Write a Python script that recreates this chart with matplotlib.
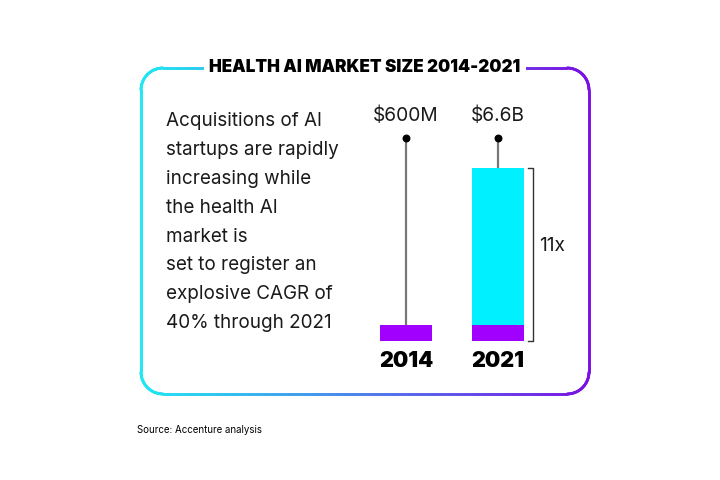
import numpy as np
import matplotlib
matplotlib.use('Agg')
import matplotlib.pyplot as plt
from matplotlib.collections import LineCollection
from matplotlib.colors import LinearSegmentedColormap

# =============================================================================
# DATA
# =============================================================================

years       = ["2014", "2021"]
base_value  = [0.6, 0.6]        # $B, purple segment (2014 level)
total_value = [0.6, 6.6]        # $B, market size
value_label = ["$600M", "$6.6B"]
growth_label = "11x"

title  = "HEALTH AI MARKET SIZE 2014-2021"
body   = ["Acquisitions of AI", "startups are rapidly", "increasing while",
          "the health AI", "market is", "set to register an",
          "explosive CAGR of", "40% through 2021"]
source = "Source: Accenture analysis"

# =============================================================================
# STYLE
# =============================================================================

PURPLE  = '#a100ff'
CYAN    = '#00f0ff'
STEM    = '#777777'
BORDER0 = '#1ee8f2'
BORDER1 = '#7b10e4'
BODY    = ['Inter', 'DejaVu Sans']

fig = plt.figure(figsize=(7.2, 4.8), dpi=100)
fig.patch.set_facecolor('white')

# pixel-coordinate overlay for the frame and text
bg = fig.add_axes([0, 0, 1, 1])
bg.set_xlim(0, 720)
bg.set_ylim(480, 0)
bg.axis('off')

# rounded frame with horizontal gradient
x0, y0, x1, y1, r = 141, 68, 589, 394, 22
pts = []
def arc(cx, cy, a0, a1):
    t = np.linspace(np.radians(a0), np.radians(a1), 30)
    return list(zip(cx + r * np.cos(t), cy + r * np.sin(t)))
pts += [(x0 + r, y0), (x1 - r, y0)]
pts += arc(x1 - r, y0 + r, -90, 0)
pts += [(x1, y1 - r)]
pts += arc(x1 - r, y1 - r, 0, 90)
pts += [(x0 + r, y1)]
pts += arc(x0 + r, y1 - r, 90, 180)
pts += [(x0, y0 + r)]
pts += arc(x0 + r, y0 + r, 180, 270)
pts = np.array(pts)
dense = []
for a, b in zip(pts[:-1], pts[1:]):
    n = max(2, int(np.hypot(*(b - a)) / 2))
    for k in range(n):
        dense.append(a + (b - a) * k / n)
dense.append(pts[-1])
dense = np.array(dense)
segs = np.stack([dense[:-1], dense[1:]], axis=1)
cmap = LinearSegmentedColormap.from_list('frame', [BORDER0, BORDER1])
mid_x = segs[:, :, 0].mean(axis=1)
lc = LineCollection(segs, colors=cmap((mid_x - x0) / (x1 - x0)),
                    linewidths=2.0, capstyle='round')
bg.add_collection(lc)

bg.text(365, 68, title, ha='center', va='center', fontsize=12.3,
        fontweight=900, family=BODY, color='black',
        bbox=dict(facecolor='white', edgecolor='none', pad=4))

for i, line in enumerate(body):
    bg.text(166, 121 + i * 28.9, line, ha='left', va='center',
            fontsize=13.6, family=BODY, color='#1a1a1a')

bg.text(137, 430, source, ha='left', va='center', fontsize=7.0,
        family=BODY, color='black')

# =============================================================================
# BARS
# =============================================================================

ax = fig.add_axes([360 / 720, (480 - 341) / 480, 184 / 720, 241 / 480])
ax.set_xlim(-0.5, 1.5)
ax.set_ylim(0, 241 / (173 / total_value[1]))
ax.axis('off')
ax.patch.set_alpha(0)

x = np.arange(len(years))
w = 52 / 92
top = [t - b for t, b in zip(total_value, base_value)]
ax.bar(x, base_value, width=w, color=PURPLE, zorder=3)
ax.bar(x, top, width=w, bottom=base_value, color=CYAN, zorder=3)

dot_y = 7.75
ax.vlines(x, total_value, dot_y, color=STEM, lw=1.6, zorder=2)
ax.scatter(x, [dot_y] * len(x), s=22, color='black', zorder=4)
for xi, lab in zip(x, value_label):
    ax.text(xi, 8.58, lab, ha='center', va='center', fontsize=13.8,
            family=BODY, color='#1a1a1a')

# bracket showing growth
bx, bt = 1.38, 1.325
ax.plot([bt, bx, bx, bt], [total_value[1], total_value[1], 0, 0],
        color='#333333', lw=1.0, clip_on=False)
ax.text(bx + 0.07, total_value[1] * 0.55, growth_label, ha='left',
        va='center', fontsize=13.8, family=BODY, color='#1a1a1a')

for xi, yr in zip(x, years):
    ax.text(xi, -0.78, yr, ha='center', va='center', fontsize=15.5,
            fontweight=900, family=BODY, color='black', clip_on=False)

fig.savefig('out.png', dpi=100, facecolor='white')
